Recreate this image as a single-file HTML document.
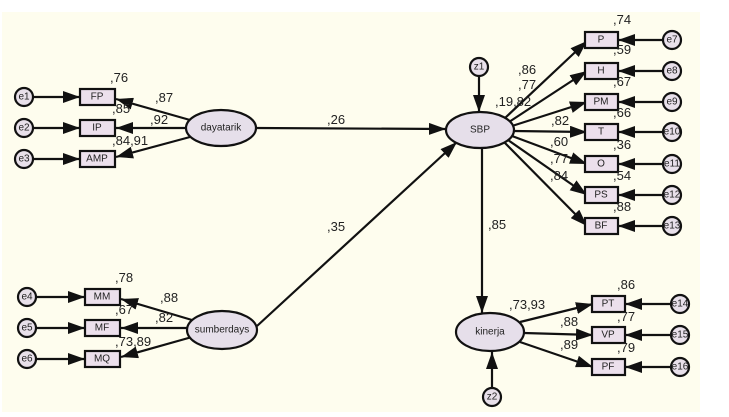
<!DOCTYPE html>
<html><head><style>
html,body{margin:0;padding:0;background:#fff;width:729px;height:417px;overflow:hidden}
svg{display:block}
text{font-family:"Liberation Sans",sans-serif;fill:#222}
.l{font-size:13px}
.n{font-size:10px;text-anchor:middle;dominant-baseline:central}
rect,ellipse,circle{stroke:#111;stroke-width:2.2}
rect{fill:#ece0ec}
ellipse{fill:#e6dfea}
circle{fill:#e8e0ea}
line{stroke:#111;stroke-width:2.2}
</style></head><body>
<svg width="729" height="417" viewBox="0 0 729 417">
<defs><marker id="a" viewBox="0 0 17 12" refX="17" refY="6" markerWidth="17" markerHeight="12" markerUnits="userSpaceOnUse" orient="auto"><path d="M0,0L17,6L0,12z" fill="#111"/></marker></defs>
<rect x="2" y="12" width="698" height="400" style="fill:#fefdee;stroke:none"/>
<line x1="33" y1="97" x2="80" y2="97" marker-end="url(#a)"/>
<line x1="33" y1="128" x2="80" y2="128" marker-end="url(#a)"/>
<line x1="33" y1="159" x2="80" y2="159" marker-end="url(#a)"/>
<line x1="190" y1="120" x2="116" y2="99" marker-end="url(#a)"/>
<line x1="186" y1="128" x2="116" y2="128" marker-end="url(#a)"/>
<line x1="190" y1="137" x2="116" y2="157" marker-end="url(#a)"/>
<circle cx="24" cy="97" r="9"/><circle cx="24" cy="128" r="9"/><circle cx="24" cy="159" r="9"/>
<text class="n" x="24" y="97">e1</text><text class="n" x="24" y="128">e2</text><text class="n" x="24" y="159">e3</text>
<rect x="80" y="89" width="35" height="16"/><rect x="80" y="120" width="35" height="16"/><rect x="80" y="151" width="35" height="16"/>
<text class="n" x="97" y="97">FP</text><text class="n" x="97" y="128">IP</text><text class="n" x="97" y="159">AMP</text>
<ellipse cx="221" cy="128" rx="35" ry="18"/><text class="n" x="221" y="128">dayatarik</text>
<text class="l" x="110" y="82">,76</text><text class="l" x="155" y="102">,87</text><text class="l" x="150" y="124">,92</text>
<text class="l" x="112" y="113">,85</text><text class="l" x="112" y="145">,84,91</text>
<line x1="256" y1="128" x2="446" y2="129" marker-end="url(#a)"/>
<text class="l" x="327" y="124">,26</text>
<line x1="257" y1="326" x2="457" y2="142" marker-end="url(#a)"/>
<text class="l" x="327" y="231">,35</text>
<line x1="482" y1="148" x2="482" y2="313" marker-end="url(#a)"/>
<text class="l" x="488" y="229">,85</text>
<line x1="479" y1="76" x2="479" y2="112" marker-end="url(#a)"/>
<circle cx="479" cy="67" r="9"/><text class="n" x="479" y="67">z1</text>
<line x1="505" y1="118" x2="587" y2="41" marker-end="url(#a)"/>
<line x1="509" y1="122" x2="587" y2="71" marker-end="url(#a)"/>
<line x1="512" y1="126" x2="587" y2="102" marker-end="url(#a)"/>
<line x1="514" y1="131" x2="587" y2="132" marker-end="url(#a)"/>
<line x1="512" y1="136" x2="587" y2="164" marker-end="url(#a)"/>
<line x1="508" y1="140" x2="587" y2="195" marker-end="url(#a)"/>
<line x1="505" y1="143" x2="587" y2="226" marker-end="url(#a)"/>
<ellipse cx="480" cy="130" rx="34" ry="18"/><text class="n" x="480" y="130">SBP</text>
<line x1="663" y1="40" x2="618" y2="40" marker-end="url(#a)"/>
<line x1="663" y1="71" x2="618" y2="71" marker-end="url(#a)"/>
<line x1="663" y1="102" x2="618" y2="102" marker-end="url(#a)"/>
<line x1="663" y1="132" x2="618" y2="132" marker-end="url(#a)"/>
<line x1="663" y1="164" x2="618" y2="164" marker-end="url(#a)"/>
<line x1="663" y1="195" x2="618" y2="195" marker-end="url(#a)"/>
<line x1="663" y1="226" x2="618" y2="226" marker-end="url(#a)"/>
<rect x="585" y="32" width="33" height="16"/><rect x="585" y="63" width="33" height="16"/><rect x="585" y="94" width="33" height="16"/><rect x="585" y="124" width="33" height="16"/><rect x="585" y="156" width="33" height="16"/><rect x="585" y="187" width="33" height="16"/><rect x="585" y="218" width="33" height="16"/>
<text class="n" x="601" y="40">P</text><text class="n" x="601" y="71">H</text><text class="n" x="601" y="102">PM</text><text class="n" x="601" y="132">T</text><text class="n" x="601" y="164">O</text><text class="n" x="601" y="195">PS</text><text class="n" x="601" y="226">BF</text>
<circle cx="672" cy="40" r="9"/><circle cx="672" cy="71" r="9"/><circle cx="672" cy="102" r="9"/><circle cx="672" cy="132" r="9"/><circle cx="672" cy="164" r="9"/><circle cx="672" cy="195" r="9"/><circle cx="672" cy="226" r="9"/>
<text class="n" x="672" y="40">e7</text><text class="n" x="672" y="71">e8</text><text class="n" x="672" y="102">e9</text><text class="n" x="672" y="132">e10</text><text class="n" x="672" y="164">e11</text><text class="n" x="672" y="195">e12</text><text class="n" x="672" y="226">e13</text>
<text class="l" x="613" y="24">,74</text><text class="l" x="613" y="54">,59</text><text class="l" x="613" y="86">,67</text><text class="l" x="613" y="117">,66</text><text class="l" x="613" y="149">,36</text><text class="l" x="613" y="180">,54</text><text class="l" x="613" y="211">,88</text>
<text class="l" x="518" y="74">,86</text><text class="l" x="518" y="89">,77</text><text class="l" x="495" y="106">,19,82</text>
<text class="l" x="551" y="125">,82</text><text class="l" x="550" y="146">,60</text><text class="l" x="550" y="163">,77</text><text class="l" x="550" y="180">,84</text>
<line x1="36" y1="297" x2="85" y2="297" marker-end="url(#a)"/>
<line x1="36" y1="328" x2="85" y2="328" marker-end="url(#a)"/>
<line x1="36" y1="359" x2="85" y2="359" marker-end="url(#a)"/>
<line x1="192" y1="320" x2="121" y2="299" marker-end="url(#a)"/>
<line x1="188" y1="328" x2="121" y2="328" marker-end="url(#a)"/>
<line x1="192" y1="337" x2="121" y2="357" marker-end="url(#a)"/>
<circle cx="27" cy="297" r="9"/><circle cx="27" cy="328" r="9"/><circle cx="27" cy="359" r="9"/>
<text class="n" x="27" y="297">e4</text><text class="n" x="27" y="328">e5</text><text class="n" x="27" y="359">e6</text>
<rect x="85" y="289" width="35" height="16"/><rect x="85" y="320" width="35" height="16"/><rect x="85" y="351" width="35" height="16"/>
<text class="n" x="102" y="297">MM</text><text class="n" x="102" y="328">MF</text><text class="n" x="102" y="359">MQ</text>
<ellipse cx="222" cy="330" rx="35" ry="19"/><text class="n" x="222" y="330">sumberdays</text>
<text class="l" x="115" y="282">,78</text><text class="l" x="160" y="302">,88</text><text class="l" x="115" y="314">,67</text><text class="l" x="155" y="322">,82</text><text class="l" x="115" y="346">,73,89</text>
<line x1="492" y1="388" x2="492" y2="352" marker-end="url(#a)"/>
<circle cx="492" cy="397" r="9"/><text class="n" x="492" y="397">z2</text>
<line x1="520" y1="322" x2="593" y2="304" marker-end="url(#a)"/>
<line x1="524" y1="333" x2="593" y2="335" marker-end="url(#a)"/>
<line x1="520" y1="342" x2="593" y2="367" marker-end="url(#a)"/>
<ellipse cx="490" cy="332" rx="34" ry="19"/><text class="n" x="490" y="332">kinerja</text>
<line x1="672" y1="304" x2="625" y2="304" marker-end="url(#a)"/>
<line x1="672" y1="335" x2="625" y2="335" marker-end="url(#a)"/>
<line x1="672" y1="367" x2="625" y2="367" marker-end="url(#a)"/>
<rect x="592" y="296" width="33" height="16"/><rect x="592" y="327" width="33" height="16"/><rect x="592" y="359" width="33" height="16"/>
<text class="n" x="608" y="304">PT</text><text class="n" x="608" y="335">VP</text><text class="n" x="608" y="367">PF</text>
<circle cx="680" cy="304" r="9"/><circle cx="680" cy="335" r="9"/><circle cx="680" cy="367" r="9"/>
<text class="n" x="680" y="304">e14</text><text class="n" x="680" y="335">e15</text><text class="n" x="680" y="367">e16</text>
<text class="l" x="509" y="309">,73,93</text><text class="l" x="560" y="326">,88</text><text class="l" x="560" y="349">,89</text>
<text class="l" x="617" y="289">,86</text><text class="l" x="617" y="321">,77</text><text class="l" x="617" y="352">,79</text>
</svg>
</body></html>
